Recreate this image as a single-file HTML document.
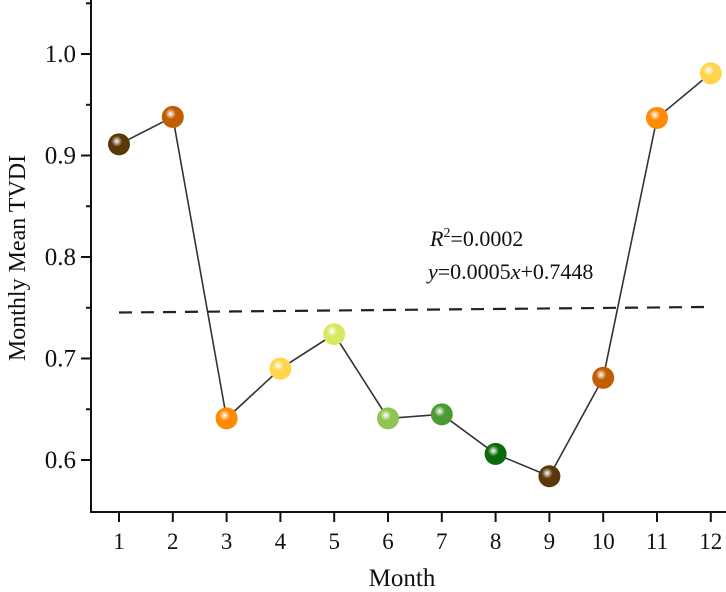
<!DOCTYPE html>
<html><head><meta charset="utf-8">
<style>
html,body{margin:0;padding:0;background:#fff;}
svg{display:block;font-family:"Liberation Serif",serif;}
</style></head>
<body>
<svg id="chart" width="726" height="592" viewBox="0 0 726 592" xmlns="http://www.w3.org/2000/svg">
<defs></defs>
<g id="axes"></g>
<g id="marks"></g>
<text x="430" y="246" font-size="22" fill="#111"><tspan font-style="italic">R</tspan><tspan font-size="14" dy="-9">2</tspan><tspan dy="9">=0.0002</tspan></text>
<text x="428" y="279" font-size="22" fill="#111"><tspan font-style="italic">y</tspan>=0.0005<tspan font-style="italic">x</tspan>+0.7448</text>
<text x="402" y="586" font-size="25" text-anchor="middle" fill="#111">Month</text>
<text transform="translate(25,258) rotate(-90)" font-size="24" text-anchor="middle" fill="#111">Monthly Mean TVDI</text>
</svg>
<script>
const months = [1,2,3,4,5,6,7,8,9,10,11,12];
const tvdi = [0.911,0.938,0.641,0.690,0.724,0.641,0.645,0.606,0.584,0.681,0.937,0.981];
const markerColors = ['#5a3808','#c25c00','#ff8a00','#ffd54e','#d9e862','#8fc452','#4b9b32','#0b6b0b','#5a3808','#c25c00','#ff8a00','#ffd54e'];
const yTicks = [0.6,0.7,0.8,0.9,1.0];
const yTickLabels = ['0.6','0.7','0.8','0.9','1.0'];
const slope = 0.0005, intercept = 0.7448;

const NS='http://www.w3.org/2000/svg';
const X0=91, Y0=512;
function x(m){return 119+(m-1)*53.8;}
function y(v){return 54+(1-v)*1015;}
function mk(tag,attrs,parent){const e=document.createElementNS(NS,tag);for(const k in attrs)e.setAttribute(k,attrs[k]);parent.appendChild(e);return e;}
const svg=document.getElementById('chart');
const defs=svg.querySelector('defs');
const axes=document.getElementById('axes');
const marks=document.getElementById('marks');

let a=mk('line',{x1:X0,y1:0,x2:X0,y2:Y0+1,stroke:'#111','stroke-width':2},axes);


a=mk('line',{x1:X0-1,y1:Y0,x2:726,y2:Y0,stroke:'#111','stroke-width':2},axes);



yTicks.forEach((v,i)=>{
  const t=mk('line',{x1:X0-10,y1:y(v),x2:X0,y2:y(v),stroke:'#111','stroke-width':2},axes);
  
  
  const m=mk('line',{x1:X0-5,y1:y(v+0.05),x2:X0,y2:y(v+0.05),stroke:'#111','stroke-width':2},axes);
  
  
  const l=mk('text',{x:X0-15,y:y(v)+8,'font-size':25,'text-anchor':'end',fill:'#111'},axes);
  l.textContent=yTickLabels[i];
  
  
});
months.forEach(mo=>{
  const t=mk('line',{x1:x(mo),y1:Y0,x2:x(mo),y2:Y0+10,stroke:'#111','stroke-width':2},axes);
  
  
  const l=mk('text',{x:x(mo),y:Y0+37,'font-size':23,'text-anchor':'middle',fill:'#111'},axes);
  l.textContent=String(mo);
  
  
});

const fit=mk('line',{x1:x(months[0]),y1:y(intercept+slope*months[0]),x2:x(months[months.length-1]),y2:y(intercept+slope*months[months.length-1]),stroke:'#222','stroke-width':2.2,'stroke-dasharray':'13 9'},marks);



const pl=mk('polyline',{points:months.map((m,i)=>x(m)+','+y(tvdi[i])).join(' '),fill:'none',stroke:'#333','stroke-width':1.6},marks);



months.forEach((m,i)=>{
  const g=mk('radialGradient',{id:'g'+i,cx:'0.4',cy:'0.36',r:'0.62'},defs);
  mk('stop',{offset:'0',"stop-color":'#ffffff'},g);
  mk('stop',{offset:'0.4',"stop-color":markerColors[i]},g);
  mk('stop',{offset:'1',"stop-color":markerColors[i]},g);
  const c=mk('circle',{cx:x(m),cy:y(tvdi[i]),r:11,fill:'url(#g'+i+')'},marks);
  
  
});
</script>
</body></html>
